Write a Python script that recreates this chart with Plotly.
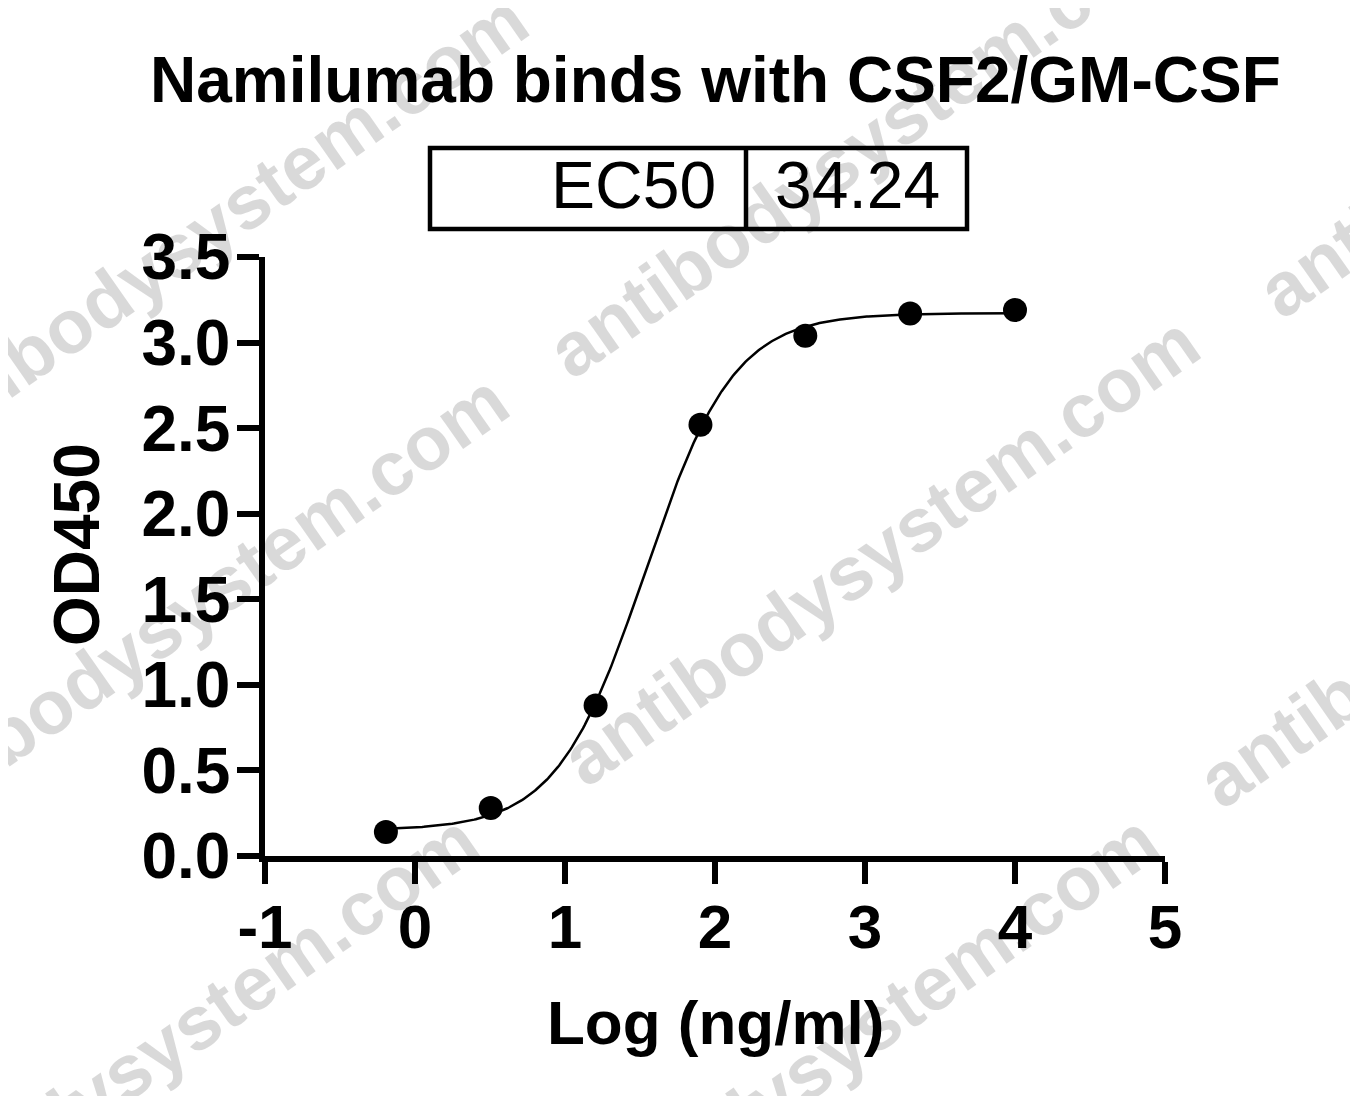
import numpy as np
import plotly.graph_objects as go

# ---------------- data ----------------
log_conc = [-0.194, 0.505, 1.204, 1.903, 2.602, 3.301, 4.0]   # Log (ng/ml)
od450 = [0.14, 0.28, 0.88, 2.52, 3.04, 3.17, 3.19]              # OD450

# 4PL fit parameters (EC50 as reported in the table)
fit_bottom = 0.15
fit_top = 3.172
fit_ec50 = 34.24
fit_hill = 1.47

x_ticks = [-1, 0, 1, 2, 3, 4, 5]
y_ticks = [0.0, 0.5, 1.0, 1.5, 2.0, 2.5, 3.0, 3.5]
title_text = "Namilumab binds with CSF2/GM-CSF"
table_label = "EC50"
table_value = "34.24"
x_title = "Log (ng/ml)"
y_title = "OD450"
watermark = "antibodysystem.com"

# ---------------- layout geometry ----------------
PAGE_W, PAGE_H = 1358, 1104
OFF = 8                      # page body margin
W, H = PAGE_W - 2 * OFF, PAGE_H - 2 * OFF
L, R, T, B = 265, 1165, 257, 856  # plot area in page pixels


def px(xp):
    return (xp - L) / (R - L)


def py(yp):
    return (B - yp) / (B - T)


# fitted curve
xc = np.linspace(min(log_conc), max(log_conc), 400)
yc = fit_bottom + (fit_top - fit_bottom) / (1 + 10 ** ((np.log10(fit_ec50) - xc) * fit_hill))

fig = go.Figure()
fig.add_trace(go.Scatter(x=xc, y=yc, mode="lines",
                         line=dict(color="black", width=2.5),
                         hoverinfo="skip", showlegend=False, cliponaxis=False))
fig.add_trace(go.Scatter(x=log_conc, y=od450, mode="markers",
                         marker=dict(color="black", size=24),
                         showlegend=False, cliponaxis=False))

font_bold = "Liberation Sans, Arial, sans-serif"

annotations = []
# watermarks (centers in page pixel coords)
wm_centers = [(209, 228), (866, 142), (189, 608), (880, 550),
              (159, 1048), (839, 1048), (1516, 572), (1576, 82)]
for cx, cy in wm_centers:
    annotations.append(dict(x=px(cx), y=py(cy), xref="paper", yref="paper",
                            text="<b>" + watermark + "</b>", showarrow=False,
                            textangle=-35, xanchor="center", yanchor="middle",
                            font=dict(family=font_bold, size=76, color="rgba(0,0,0,0.15)")))

# title
annotations.append(dict(x=px(715), y=py(80), xref="paper", yref="paper",
                        text="<b>" + title_text + "</b>", showarrow=False,
                        xanchor="center", yanchor="middle",
                        font=dict(family=font_bold, size=64, color="black")))
# table texts
annotations.append(dict(x=px(718), y=py(185), xref="paper", yref="paper",
                        text=table_label, showarrow=False,
                        xanchor="right", yanchor="middle",
                        font=dict(family=font_bold, size=66, color="black")))
annotations.append(dict(x=px(857), y=py(185), xref="paper", yref="paper",
                        text=table_value, showarrow=False,
                        xanchor="center", yanchor="middle",
                        font=dict(family=font_bold, size=66, color="black")))
# axis titles
annotations.append(dict(x=px(715), y=py(1022), xref="paper", yref="paper",
                        text="<b>" + x_title + "</b>", showarrow=False,
                        xanchor="center", yanchor="middle",
                        font=dict(family=font_bold, size=62, color="black")))
annotations.append(dict(x=px(77), y=py(545), xref="paper", yref="paper",
                        text="<b>" + y_title + "</b>", showarrow=False,
                        textangle=-90, xanchor="center", yanchor="middle",
                        font=dict(family=font_bold, size=64, color="black")))

shapes = [
    dict(type="rect", xref="paper", yref="paper",
         x0=px(430), x1=px(967), y0=py(148), y1=py(229),
         line=dict(color="black", width=4.5), fillcolor="rgba(0,0,0,0)"),
    dict(type="line", xref="paper", yref="paper",
         x0=px(746), x1=px(746), y0=py(148), y1=py(229),
         line=dict(color="black", width=4.5)),
]

fig.update_layout(
    width=W, height=H,
    margin=dict(l=L - OFF, r=(PAGE_W - OFF) - R, t=T - OFF, b=(PAGE_H - OFF) - B, pad=0),
    paper_bgcolor="white", plot_bgcolor="white",
    annotations=annotations, shapes=shapes,
    showlegend=False,
)
fig.update_xaxes(range=[-1, 5], tickvals=x_ticks, ticktext=[str(v) for v in x_ticks],
                 showgrid=False, zeroline=False, showline=True,
                 linecolor="black", linewidth=5.5, ticks="outside", ticklen=22,
                 tickwidth=5.5, tickcolor="black", ticklabelstandoff=-10,
                 tickfont=dict(family=font_bold, size=62, color="black", weight="bold"))
fig.update_yaxes(range=[0, 3.5], tickvals=y_ticks, ticktext=[f"{v:.1f}" for v in y_ticks],
                 showgrid=False, zeroline=False, showline=True,
                 linecolor="black", linewidth=5.5, ticks="outside", ticklen=22,
                 tickwidth=5.5, tickcolor="black", ticklabelstandoff=-6,
                 tickfont=dict(family=font_bold, size=64, color="black", weight="bold"))

fig.write_html("out.html")
